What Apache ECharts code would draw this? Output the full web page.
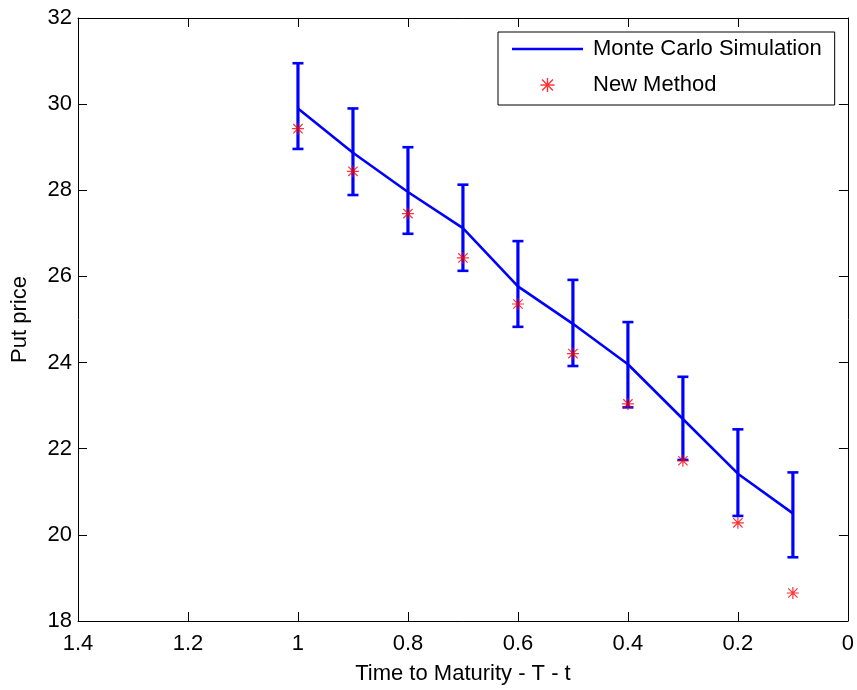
<!DOCTYPE html>
<html>
<head>
<meta charset="utf-8">
<script src="https://cdn.jsdelivr.net/npm/echarts@6/dist/echarts.min.js"></script>
<style>html,body{margin:0;padding:0;background:#fff;}#c{width:857px;height:690px;}</style>
</head>
<body>
<div id="c"></div>
<script>
// Time to maturity (x)
var timeToMaturity = [1.0, 0.9, 0.8, 0.7, 0.6, 0.5, 0.4, 0.3, 0.2, 0.1];
// Monte Carlo simulation mean put price
var monteCarlo = [29.90, 28.87, 27.96, 27.12, 25.77, 24.90, 23.96, 22.69, 21.42, 20.50];
// Monte Carlo error bar bounds
var mcLower = [28.96, 27.89, 26.99, 26.13, 24.83, 23.92, 22.96, 21.74, 20.44, 19.48];
var mcUpper = [30.95, 29.90, 29.00, 28.13, 26.82, 25.92, 24.94, 23.67, 22.45, 21.45];
// New method put price
var newMethod = [29.43, 28.44, 27.46, 26.43, 25.36, 24.21, 23.04, 21.72, 20.28, 18.65];

var xTicks = {min: 0, max: 1.4, interval: 0.2};
var yTicks = {min: 18, max: 32, interval: 2};

var FONT = 'Liberation Sans, Arial, Helvetica, sans-serif';
var BLUE = '#0000ff';
var RED = '#ff0000';
var STAR = 'path://M0,9L20,9L20,11L0,11Z M9,0L11,0L11,20L9,20Z M1.5,2.9L2.9,1.5L18.5,17.1L17.1,18.5Z M17.1,1.5L18.5,2.9L2.9,18.5L1.5,17.1Z';
var LINE_ICON = 'path://M0,0L71,0L71,2.6L0,2.6Z';

var lineData = timeToMaturity.map(function (t, i) { return [t, monteCarlo[i]]; });
var starData = timeToMaturity.map(function (t, i) { return [t, newMethod[i]]; });
var errData = timeToMaturity.map(function (t, i) { return [t, mcLower[i], mcUpper[i]]; });

var chart = echarts.init(document.getElementById('c'), null, {renderer: 'canvas'});

function axisCommon(extra) {
  var base = {
    axisLine: {show: true, onZero: false, lineStyle: {color: '#000', width: 1}},
    axisTick: {show: true, inside: true, length: 9, lineStyle: {color: '#000', width: 1}},
    splitLine: {show: false},
    axisLabel: {color: '#000', fontFamily: FONT, fontSize: 22},
    nameTextStyle: {color: '#000', fontFamily: FONT, fontSize: 22}
  };
  for (var k in extra) base[k] = extra[k];
  return base;
}

var option = {
  backgroundColor: '#fff',
  animation: false,
  grid: {left: 78, right: 6, top: 18, bottom: 65, containLabel: false},
  legend: {
    left: 498, top: 32,
    orient: 'vertical',
    backgroundColor: '#fff',
    borderColor: '#000', borderWidth: 1, borderRadius: 0,
    padding: [5, 13, 8, 14],
    itemWidth: 71, itemHeight: 14, itemGap: 12,
    textStyle: {color: '#000', fontFamily: FONT, fontSize: 22, lineHeight: 24, padding: [0, 0, 0, 5]},
    data: [
      {name: 'Monte Carlo Simulation', icon: LINE_ICON, itemStyle: {color: BLUE, borderWidth: 0}},
      {name: 'New Method', icon: STAR}
    ]
  },
  xAxis: [
    axisCommon({
      type: 'value', position: 'bottom', inverse: true,
      min: xTicks.min, max: xTicks.max, interval: xTicks.interval,
      name: 'Time to Maturity - T - t', nameLocation: 'middle', nameGap: 42,
      axisLabel: {color: '#000', fontFamily: FONT, fontSize: 22, margin: 12}
    }),
    axisCommon({
      type: 'value', position: 'top', inverse: true,
      min: xTicks.min, max: xTicks.max, interval: xTicks.interval,
      axisLabel: {show: false}
    })
  ],
  yAxis: [
    axisCommon({
      type: 'value', position: 'left',
      min: yTicks.min, max: yTicks.max, interval: yTicks.interval,
      name: 'Put price', nameLocation: 'middle', nameGap: 47,
      axisLabel: {color: '#000', fontFamily: FONT, fontSize: 22, margin: 6}
    }),
    axisCommon({
      type: 'value', position: 'right',
      min: yTicks.min, max: yTicks.max, interval: yTicks.interval,
      axisLabel: {show: false}
    })
  ],
  series: [
    {
      name: 'errorbar',
      type: 'custom',
      xAxisIndex: 0, yAxisIndex: 0,
      data: errData,
      encode: {x: 0, y: [1, 2]},
      renderItem: function (params, api) {
        var x = api.value(0);
        var lo = api.coord([x, api.value(1)]);
        var hi = api.coord([x, api.value(2)]);
        var hw = 5.5;
        var st = {stroke: BLUE, lineWidth: 3.2};
        return {
          type: 'group',
          children: [
            {type: 'line', shape: {x1: lo[0], y1: lo[1], x2: hi[0], y2: hi[1]}, style: st},
            {type: 'line', shape: {x1: lo[0] - hw, y1: lo[1], x2: lo[0] + hw, y2: lo[1]}, style: {stroke: BLUE, lineWidth: 2.6}},
            {type: 'line', shape: {x1: hi[0] - hw, y1: hi[1], x2: hi[0] + hw, y2: hi[1]}, style: {stroke: BLUE, lineWidth: 2.6}}
          ]
        };
      },
      z: 2
    },
    {
      name: 'Monte Carlo Simulation',
      type: 'line',
      xAxisIndex: 0, yAxisIndex: 0,
      data: lineData,
      symbol: 'none',
      lineStyle: {color: BLUE, width: 2.6},
      itemStyle: {color: BLUE},
      z: 3
    },
    {
      name: 'New Method',
      type: 'scatter',
      xAxisIndex: 0, yAxisIndex: 0,
      data: starData,
      symbol: STAR,
      symbolSize: 12,
      itemStyle: {color: RED},
      z: 4
    }
  ]
};
chart.setOption(option);
</script>
</body>
</html>
